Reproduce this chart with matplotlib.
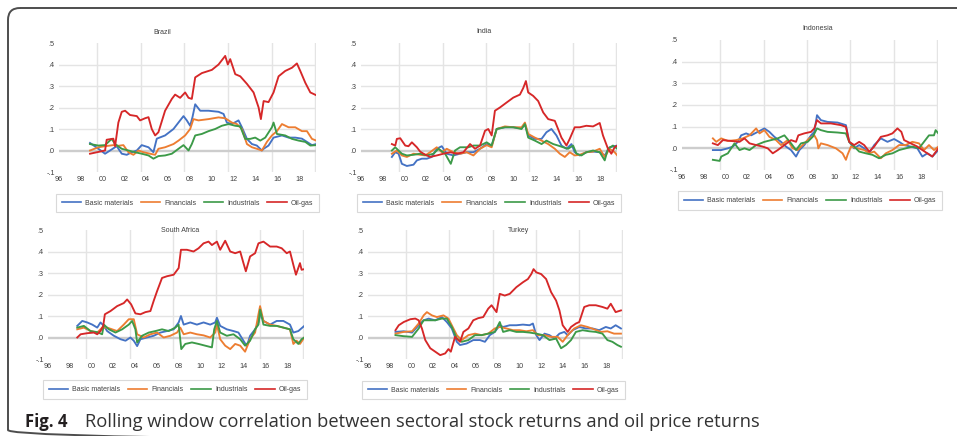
import matplotlib
matplotlib.use('Agg')
import matplotlib.pyplot as plt
from matplotlib.patches import FancyBboxPatch
from matplotlib.lines import Line2D

# ---------------- data (decimal year, correlation) ----------------
sectors = ['Basic materials', 'Financials', 'Industrials', 'Oil-gas']
colors = ['#4472C4', '#ED7D31', '#3C9A48', '#D62728']
year_ticks = list(range(1996, 2019, 2))
year_labels = ['96', '98', '00', '02', '04', '06', '08', '10', '12', '14', '16', '18']
ytick_vals = [-0.1, 0.0, 0.1, 0.2, 0.3, 0.4, 0.5]
ytick_labels = ['-.1', '.0', '.1', '.2', '.3', '.4', '.5']

brazil_basic = [(1998.84, 0.035), (1999.61, 0.008), (2000.22, -0.015), (2000.98, 0.010), (2001.29, 0.020),
                (2001.75, -0.015), (2002.21, -0.020), (2002.67, -0.008), (2003.13, 0.000), (2003.58, 0.025),
                (2004.20, 0.015), (2004.65, -0.008), (2004.96, 0.055), (2005.72, 0.070), (2006.49, 0.100),
                (2007.10, 0.140), (2007.41, 0.160), (2007.71, 0.140), (2008.02, 0.115), (2008.23, 0.155),
                (2008.48, 0.215), (2008.94, 0.185), (2009.70, 0.185), (2010.62, 0.180), (2011.08, 0.170),
                (2011.38, 0.130), (2011.84, 0.123), (2012.45, 0.140), (2012.76, 0.108), (2013.22, 0.054),
                (2013.68, 0.030), (2014.13, 0.023), (2014.59, 0.000), (2014.75, 0.008), (2015.20, 0.023),
                (2015.66, 0.060), (2016.43, 0.070), (2017.04, 0.060), (2017.65, 0.060), (2018.26, 0.055),
                (2018.72, 0.040), (2019.18, 0.025), (2019.58, 0.030)]
brazil_fin = [(1998.84, 0.000), (1999.61, 0.015), (2000.22, 0.020), (2000.98, 0.025), (2001.44, 0.022),
              (2001.90, 0.025), (2002.36, -0.008), (2002.82, -0.020), (2003.28, 0.000), (2003.74, -0.008),
              (2004.35, -0.015), (2004.81, -0.020), (2005.11, 0.008), (2005.72, 0.015), (2006.49, 0.030),
              (2006.95, 0.046), (2007.56, 0.070), (2008.02, 0.100), (2008.32, 0.146), (2008.78, 0.140),
              (2009.70, 0.146), (2010.62, 0.154), (2011.23, 0.150), (2011.84, 0.130), (2012.30, 0.123),
              (2012.76, 0.100), (2013.22, 0.030), (2013.68, 0.015), (2014.13, 0.008), (2014.59, 0.000),
              (2015.05, 0.040), (2015.51, 0.070), (2015.97, 0.090), (2016.43, 0.123), (2017.04, 0.108),
              (2017.65, 0.108), (2018.26, 0.090), (2018.72, 0.090), (2019.18, 0.054), (2019.58, 0.046)]
brazil_ind = [(1998.84, 0.030), (1999.61, 0.023), (2000.22, 0.025), (2000.83, 0.054), (2001.14, 0.030),
              (2001.75, 0.008), (2002.36, 0.000), (2002.97, -0.008), (2003.58, -0.015), (2004.20, -0.023),
              (2004.65, -0.038), (2005.11, -0.026), (2005.72, -0.023), (2006.34, -0.015), (2006.95, 0.008),
              (2007.41, 0.025), (2007.87, 0.000), (2008.17, 0.030), (2008.48, 0.070), (2009.09, 0.077),
              (2009.70, 0.090), (2010.31, 0.100), (2010.92, 0.115), (2011.54, 0.123), (2012.15, 0.115),
              (2012.61, 0.112), (2013.06, 0.054), (2013.52, 0.054), (2013.98, 0.060), (2014.44, 0.046),
              (2014.90, 0.060), (2015.51, 0.108), (2015.66, 0.130), (2015.97, 0.077), (2016.73, 0.070),
              (2017.35, 0.054), (2017.96, 0.046), (2018.57, 0.040), (2019.03, 0.023), (2019.58, 0.025)]
brazil_oil = [(1998.84, -0.015), (1999.30, -0.010), (2000.22, 0.000), (2000.37, 0.050), (2000.98, 0.055),
              (2001.14, 0.020), (2001.44, 0.130), (2001.75, 0.180), (2002.06, 0.185), (2002.51, 0.165),
              (2003.13, 0.160), (2003.43, 0.140), (2003.89, 0.150), (2004.20, 0.155), (2004.50, 0.100),
              (2004.81, 0.070), (2005.11, 0.085), (2005.72, 0.185), (2006.34, 0.240), (2006.64, 0.260),
              (2007.10, 0.245), (2007.56, 0.270), (2007.87, 0.245), (2008.17, 0.240), (2008.48, 0.340),
              (2009.09, 0.360), (2010.01, 0.375), (2010.62, 0.400), (2011.23, 0.440), (2011.47, 0.400),
              (2011.69, 0.425), (2012.15, 0.355), (2012.61, 0.345), (2013.22, 0.310), (2013.83, 0.270),
              (2014.29, 0.200), (2014.50, 0.146), (2014.75, 0.230), (2015.20, 0.225), (2015.66, 0.270),
              (2016.12, 0.345), (2016.73, 0.370), (2017.35, 0.385), (2017.80, 0.405), (2018.11, 0.370),
              (2018.57, 0.315), (2019.03, 0.270), (2019.58, 0.257)]

india_basic = [(1998.84, -0.030), (1999.15, -0.008), (1999.46, -0.015), (1999.76, -0.062), (2000.22, -0.072),
               (2000.83, -0.066), (2001.14, -0.046), (2001.60, -0.038), (2002.06, -0.038), (2002.51, -0.030),
               (2002.97, 0.008), (2003.43, 0.020), (2003.89, -0.015), (2004.50, -0.023), (2005.11, -0.015),
               (2005.72, -0.008), (2006.34, -0.008), (2006.95, 0.008), (2007.56, 0.030), (2008.02, 0.023),
               (2008.48, 0.100), (2009.24, 0.108), (2010.01, 0.108), (2010.77, 0.103), (2011.08, 0.123),
               (2011.38, 0.070), (2011.99, 0.054), (2012.61, 0.054), (2013.06, 0.085), (2013.52, 0.100),
               (2013.98, 0.070), (2014.44, 0.023), (2014.90, 0.008), (2015.36, 0.030), (2015.66, -0.008),
               (2016.12, -0.023), (2016.73, -0.008), (2017.35, -0.005), (2017.96, -0.008), (2018.42, -0.023),
               (2018.87, 0.015), (2019.58, 0.023)]
india_fin = [(1998.84, -0.015), (1999.30, 0.000), (1999.76, -0.023), (2000.22, -0.030), (2000.83, -0.015),
             (2001.44, -0.020), (2001.90, -0.023), (2002.36, -0.008), (2002.97, 0.015), (2003.43, -0.008),
             (2003.89, 0.008), (2004.50, -0.008), (2005.11, -0.015), (2005.72, -0.008), (2006.34, -0.023),
             (2006.95, 0.008), (2007.56, 0.025), (2008.02, 0.015), (2008.48, 0.100), (2009.24, 0.112),
             (2010.01, 0.108), (2010.77, 0.108), (2011.08, 0.130), (2011.38, 0.077), (2011.99, 0.060),
             (2012.61, 0.046), (2013.22, 0.030), (2013.83, 0.008), (2014.29, -0.015), (2014.75, -0.030),
             (2015.20, -0.008), (2015.66, -0.023), (2016.12, -0.020), (2016.73, -0.008), (2017.35, -0.005),
             (2017.96, 0.008), (2018.42, -0.030), (2018.87, 0.008), (2019.33, -0.008), (2019.58, -0.023)]
india_ind = [(1998.84, 0.000), (1999.15, 0.015), (1999.76, -0.015), (2000.22, -0.023), (2000.83, -0.020),
             (2001.44, -0.015), (2002.06, -0.023), (2002.67, -0.015), (2003.13, 0.008), (2003.74, -0.015),
             (2004.26, -0.062), (2004.65, 0.000), (2005.11, 0.015), (2005.88, 0.015), (2006.34, 0.023),
             (2006.95, 0.023), (2007.56, 0.038), (2008.02, 0.023), (2008.48, 0.100), (2009.24, 0.108),
             (2010.01, 0.108), (2010.77, 0.100), (2011.08, 0.123), (2011.38, 0.060), (2011.99, 0.046),
             (2012.61, 0.030), (2013.06, 0.046), (2013.68, 0.030), (2014.13, 0.023), (2014.59, 0.015),
             (2015.05, 0.008), (2015.51, 0.023), (2015.82, -0.015), (2016.28, -0.023), (2016.73, -0.008),
             (2017.35, 0.000), (2017.96, -0.008), (2018.42, -0.046), (2018.72, 0.008), (2019.18, 0.023),
             (2019.58, 0.008)]
india_oil = [(1998.84, 0.030), (1999.15, 0.023), (1999.30, 0.054), (1999.61, 0.057), (2000.07, 0.023),
             (2000.37, 0.020), (2000.68, 0.038), (2001.14, 0.015), (2001.44, -0.005), (2001.75, -0.015),
             (2002.36, -0.030), (2002.97, -0.023), (2003.58, -0.015), (2004.20, -0.008), (2004.81, -0.015),
             (2005.42, -0.008), (2006.03, 0.030), (2006.49, 0.008), (2006.95, 0.023), (2007.41, 0.092),
             (2007.71, 0.100), (2008.02, 0.070), (2008.32, 0.185), (2008.78, 0.200), (2009.39, 0.223),
             (2010.01, 0.246), (2010.62, 0.260), (2010.92, 0.290), (2011.17, 0.323), (2011.38, 0.270),
             (2011.84, 0.254), (2012.30, 0.230), (2012.76, 0.177), (2013.22, 0.146), (2013.83, 0.138),
             (2014.13, 0.100), (2014.44, 0.060), (2014.90, 0.023), (2015.20, 0.054), (2015.66, 0.108),
             (2016.12, 0.108), (2016.73, 0.115), (2017.35, 0.112), (2017.96, 0.128), (2018.26, 0.070),
             (2018.72, 0.008), (2019.03, -0.015), (2019.33, 0.015), (2019.58, 0.023)]

indonesia_basic = [(1998.84, -0.008), (1999.61, -0.008), (2000.22, 0.000), (2000.68, 0.008), (2001.14, 0.030),
                   (2001.44, 0.060), (2001.90, 0.069), (2002.36, 0.060), (2002.97, 0.076), (2003.58, 0.092),
                   (2004.04, 0.076), (2004.50, 0.053), (2005.11, 0.030), (2005.57, 0.008), (2006.03, -0.008),
                   (2006.49, -0.038), (2006.80, -0.008), (2007.25, 0.015), (2007.87, 0.060), (2008.17, 0.076),
                   (2008.42, 0.153), (2008.78, 0.130), (2009.39, 0.122), (2010.31, 0.119), (2011.08, 0.107),
                   (2011.38, 0.030), (2011.84, 0.000), (2012.30, 0.015), (2012.76, 0.000), (2013.22, -0.023),
                   (2013.68, 0.015), (2014.29, 0.046), (2014.90, 0.030), (2015.51, 0.043), (2015.97, 0.030),
                   (2016.43, 0.015), (2017.04, 0.008), (2017.65, 0.000), (2018.11, -0.038), (2018.57, -0.023),
                   (2019.03, -0.038), (2019.58, -0.008)]
indonesia_fin = [(1998.84, 0.046), (1999.15, 0.030), (1999.61, 0.046), (2000.22, 0.034), (2000.98, 0.038),
                 (2001.60, 0.046), (2002.21, 0.060), (2002.82, 0.092), (2003.13, 0.069), (2003.58, 0.084),
                 (2004.04, 0.053), (2004.65, 0.038), (2005.11, 0.015), (2005.72, 0.038), (2006.18, 0.000),
                 (2006.64, -0.008), (2007.10, 0.015), (2007.71, 0.046), (2008.17, 0.060), (2008.42, 0.038),
                 (2008.54, 0.000), (2008.78, 0.023), (2009.39, 0.015), (2010.16, 0.000), (2010.77, -0.023),
                 (2011.08, -0.053), (2011.23, -0.030), (2011.54, 0.008), (2012.15, 0.000), (2012.76, -0.008),
                 (2013.22, -0.023), (2013.68, -0.015), (2014.29, -0.046), (2014.75, -0.023), (2015.36, -0.008),
                 (2015.97, 0.015), (2016.58, 0.015), (2017.19, 0.030), (2017.80, 0.023), (2018.26, -0.008),
                 (2018.72, 0.015), (2019.18, -0.008), (2019.58, 0.008)]
indonesia_ind = [(1998.84, -0.053), (1999.46, -0.058), (1999.61, -0.038), (2000.22, -0.023), (2000.83, 0.023),
                 (2001.29, -0.008), (2001.75, 0.000), (2002.21, -0.008), (2002.82, 0.015), (2003.58, 0.030),
                 (2004.20, 0.038), (2004.81, 0.046), (2005.42, 0.060), (2006.03, 0.023), (2006.49, -0.008),
                 (2006.95, 0.023), (2007.56, 0.030), (2008.02, 0.053), (2008.42, 0.092), (2008.78, 0.084),
                 (2009.39, 0.076), (2010.31, 0.073), (2011.08, 0.069), (2011.38, 0.030), (2011.84, 0.008),
                 (2012.30, -0.015), (2012.91, -0.023), (2013.52, -0.030), (2014.13, -0.046), (2014.75, -0.030),
                 (2015.36, -0.023), (2015.97, -0.008), (2016.58, 0.000), (2017.19, 0.008), (2017.80, 0.000),
                 (2018.26, 0.030), (2018.72, 0.060), (2019.18, 0.060), (2019.33, 0.084), (2019.58, 0.069)]
indonesia_oil = [(1998.84, 0.023), (1999.30, 0.015), (1999.76, 0.038), (2000.53, 0.034), (2001.29, 0.030),
                 (2001.75, 0.046), (2002.21, 0.023), (2002.82, 0.015), (2003.43, 0.008), (2003.89, 0.000),
                 (2004.35, -0.023), (2004.81, -0.008), (2005.42, 0.015), (2006.03, 0.038), (2006.49, 0.030),
                 (2006.70, 0.060), (2007.25, 0.069), (2007.87, 0.076), (2008.17, 0.092), (2008.42, 0.130),
                 (2008.78, 0.115), (2009.70, 0.115), (2010.62, 0.107), (2011.08, 0.099), (2011.38, 0.030),
                 (2011.84, 0.015), (2012.30, 0.030), (2012.76, 0.015), (2013.22, -0.015), (2013.68, 0.008),
                 (2014.29, 0.053), (2014.90, 0.060), (2015.36, 0.069), (2015.82, 0.092), (2016.18, 0.076),
                 (2016.43, 0.038), (2017.04, 0.023), (2017.65, 0.008), (2018.11, -0.008), (2018.57, -0.023),
                 (2019.03, -0.038), (2019.58, 0.000)]

safrica_basic = [(1998.69, 0.054), (1999.15, 0.077), (1999.61, 0.070), (2000.07, 0.060), (2000.53, 0.046),
                 (2000.83, 0.070), (2001.14, 0.054), (2001.44, 0.030), (2002.06, 0.008), (2002.67, -0.008),
                 (2003.13, -0.015), (2003.58, 0.000), (2003.89, -0.015), (2004.20, -0.040), (2004.50, -0.008),
                 (2005.11, 0.000), (2005.72, 0.008), (2006.34, 0.023), (2006.95, 0.030), (2007.56, 0.038),
                 (2008.02, 0.070), (2008.23, 0.100), (2008.48, 0.060), (2009.09, 0.070), (2009.70, 0.060),
                 (2010.31, 0.070), (2010.92, 0.060), (2011.38, 0.070), (2011.54, 0.092), (2011.84, 0.054),
                 (2012.45, 0.038), (2013.06, 0.030), (2013.52, 0.023), (2013.98, -0.015), (2014.29, -0.040),
                 (2014.59, 0.008), (2015.05, 0.038), (2015.36, 0.070), (2015.57, 0.115), (2015.82, 0.077),
                 (2016.43, 0.060), (2017.04, 0.077), (2017.65, 0.077), (2018.26, 0.060), (2018.57, 0.023),
                 (2019.03, 0.030), (2019.58, 0.054)]
safrica_fin = [(1998.69, 0.038), (1999.30, 0.046), (1999.91, 0.030), (2000.53, 0.023), (2000.98, 0.046),
               (2001.44, 0.046), (2001.90, 0.038), (2002.36, 0.030), (2002.97, 0.060), (2003.43, 0.085),
               (2003.89, 0.085), (2004.20, 0.015), (2004.81, 0.000), (2005.42, 0.015), (2006.03, 0.023),
               (2006.64, 0.000), (2007.25, 0.008), (2007.87, 0.023), (2008.17, 0.046), (2008.48, 0.015),
               (2009.09, 0.023), (2009.70, 0.015), (2010.31, 0.010), (2010.92, 0.000), (2011.38, 0.023),
               (2011.54, 0.060), (2011.84, -0.008), (2012.30, -0.038), (2012.76, -0.054), (2013.22, -0.030),
               (2013.68, -0.038), (2014.13, -0.066), (2014.59, -0.008), (2015.05, 0.023), (2015.36, 0.108),
               (2015.51, 0.146), (2015.82, 0.077), (2016.43, 0.060), (2017.04, 0.054), (2017.65, 0.046),
               (2018.26, 0.038), (2018.57, -0.030), (2018.87, -0.015), (2019.18, -0.030), (2019.58, 0.000)]
safrica_ind = [(1998.69, 0.046), (1999.30, 0.054), (1999.91, 0.030), (2000.53, 0.025), (2000.98, 0.015),
               (2001.14, 0.060), (2001.60, 0.038), (2002.21, 0.023), (2002.82, 0.038), (2003.43, 0.060),
               (2003.74, 0.077), (2004.04, 0.038), (2004.20, -0.023), (2004.65, 0.008), (2005.27, 0.023),
               (2005.88, 0.030), (2006.49, 0.038), (2007.10, 0.030), (2007.71, 0.046), (2008.02, 0.060),
               (2008.26, -0.054), (2008.63, -0.030), (2009.24, -0.023), (2009.85, -0.030), (2010.46, -0.038),
               (2011.08, -0.046), (2011.29, 0.038), (2011.54, 0.077), (2011.84, 0.023), (2012.45, 0.008),
               (2013.06, 0.015), (2013.68, -0.008), (2014.13, -0.038), (2014.59, -0.015), (2015.05, 0.038),
               (2015.36, 0.060), (2015.51, 0.130), (2015.82, 0.060), (2016.43, 0.054), (2017.04, 0.054),
               (2017.65, 0.046), (2018.26, 0.038), (2018.57, -0.008), (2019.03, -0.030), (2019.33, -0.008),
               (2019.58, 0.000)]
safrica_oil = [(1998.69, 0.000), (1999.00, 0.015), (1999.61, 0.020), (2000.22, 0.023), (2000.53, 0.015),
               (2000.83, 0.030), (2001.08, 0.054), (2001.23, 0.108), (2001.75, 0.123), (2002.36, 0.146),
               (2002.97, 0.160), (2003.28, 0.177), (2003.65, 0.154), (2004.04, 0.112), (2004.50, 0.108),
               (2004.96, 0.118), (2005.42, 0.123), (2005.72, 0.170), (2006.03, 0.215), (2006.49, 0.277),
               (2006.95, 0.285), (2007.56, 0.292), (2008.02, 0.323), (2008.23, 0.408), (2008.78, 0.408),
               (2009.39, 0.400), (2009.85, 0.415), (2010.31, 0.438), (2010.77, 0.446), (2011.08, 0.430),
               (2011.54, 0.446), (2011.84, 0.408), (2012.30, 0.450), (2012.76, 0.400), (2013.22, 0.392),
               (2013.68, 0.400), (2013.98, 0.346), (2014.20, 0.308), (2014.59, 0.377), (2015.05, 0.392),
               (2015.36, 0.438), (2015.82, 0.446), (2016.43, 0.423), (2017.04, 0.423), (2017.50, 0.415),
               (2017.96, 0.392), (2018.26, 0.400), (2018.57, 0.338), (2018.81, 0.292), (2019.18, 0.346),
               (2019.33, 0.315), (2019.58, 0.318)]

turkey_basic = [(1998.54, 0.026), (1999.30, 0.029), (2000.07, 0.023), (2000.68, 0.057), (2001.14, 0.080),
                (2001.60, 0.088), (2002.21, 0.080), (2002.82, 0.095), (2003.28, 0.072), (2003.74, 0.042),
                (2004.20, -0.020), (2004.50, -0.035), (2005.11, -0.028), (2005.72, -0.012), (2006.34, -0.012),
                (2006.80, -0.020), (2007.25, 0.011), (2007.71, 0.026), (2008.17, 0.057), (2008.48, 0.049),
                (2009.09, 0.057), (2009.70, 0.057), (2010.31, 0.060), (2010.92, 0.057), (2011.23, 0.065),
                (2011.54, 0.011), (2011.84, -0.012), (2012.30, 0.018), (2012.76, 0.011), (2013.22, -0.005),
                (2013.68, 0.018), (2014.13, 0.026), (2014.44, 0.011), (2014.90, 0.034), (2015.51, 0.049),
                (2016.12, 0.042), (2016.73, 0.042), (2017.35, 0.034), (2017.96, 0.049), (2018.42, 0.042),
                (2018.87, 0.057), (2019.36, 0.042)]
turkey_fin = [(1998.54, 0.018), (1999.30, 0.026), (2000.07, 0.029), (2000.68, 0.065), (2001.14, 0.103),
              (2001.44, 0.118), (2001.90, 0.103), (2002.36, 0.095), (2002.97, 0.103), (2003.43, 0.088),
              (2003.74, 0.057), (2004.20, 0.011), (2004.65, -0.012), (2005.27, 0.011), (2005.88, 0.018),
              (2006.49, 0.011), (2007.10, 0.018), (2007.71, 0.042), (2008.17, 0.049), (2008.78, 0.042),
              (2009.39, 0.034), (2010.01, 0.034), (2010.62, 0.029), (2011.23, 0.034), (2011.69, 0.011),
              (2012.30, 0.011), (2012.91, 0.003), (2013.52, 0.003), (2013.98, -0.020), (2014.44, 0.011),
              (2015.05, 0.042), (2015.66, 0.057), (2016.28, 0.049), (2016.89, 0.038), (2017.50, 0.026),
              (2018.11, 0.029), (2018.72, 0.018), (2019.36, 0.018)]
turkey_ind = [(1998.54, 0.011), (1999.30, 0.006), (2000.07, 0.003), (2000.68, 0.042), (2001.14, 0.080),
              (2001.60, 0.080), (2002.21, 0.080), (2002.82, 0.088), (2003.28, 0.088), (2003.74, 0.049),
              (2004.20, -0.005), (2004.65, -0.020), (2005.27, -0.012), (2005.88, 0.011), (2006.49, 0.011),
              (2007.10, 0.018), (2007.71, 0.026), (2008.17, 0.072), (2008.48, 0.026), (2009.09, 0.034),
              (2009.70, 0.026), (2010.31, 0.026), (2010.92, 0.023), (2011.54, 0.018), (2012.15, 0.011),
              (2012.76, -0.012), (2013.37, -0.005), (2013.83, -0.050), (2014.29, -0.035), (2014.75, -0.012),
              (2015.20, 0.026), (2015.82, 0.034), (2016.43, 0.029), (2017.04, 0.026), (2017.65, 0.018),
              (2018.11, -0.012), (2018.57, -0.020), (2019.03, -0.035), (2019.36, -0.043)]
turkey_oil = [(1998.54, 0.034), (1998.84, 0.057), (1999.30, 0.072), (1999.91, 0.085), (2000.37, 0.088),
              (2000.68, 0.080), (2000.98, 0.042), (2001.29, -0.012), (2001.75, -0.050), (2002.21, -0.066),
              (2002.67, -0.082), (2003.13, -0.074), (2003.43, -0.054), (2003.65, -0.066), (2004.04, 0.003),
              (2004.50, -0.020), (2004.81, 0.026), (2005.27, 0.042), (2005.72, 0.080), (2006.18, 0.090),
              (2006.64, 0.095), (2007.10, 0.134), (2007.41, 0.150), (2007.87, 0.118), (2008.17, 0.203),
              (2008.63, 0.195), (2009.09, 0.203), (2009.70, 0.234), (2010.31, 0.257), (2010.77, 0.272),
              (2011.08, 0.295), (2011.29, 0.318), (2011.54, 0.303), (2011.99, 0.295), (2012.45, 0.272),
              (2012.91, 0.211), (2013.37, 0.172), (2013.68, 0.126), (2013.98, 0.057), (2014.44, 0.026),
              (2014.75, 0.049), (2015.20, 0.065), (2015.51, 0.072), (2015.97, 0.142), (2016.43, 0.150),
              (2017.04, 0.150), (2017.65, 0.142), (2018.11, 0.134), (2018.42, 0.157), (2018.87, 0.118),
              (2019.36, 0.126)]

countries = ['Brazil', 'India', 'Indonesia', 'South Africa', 'Turkey']

# ---------------- layout (pixels of a 957 x 436 canvas) ----------------
W, H = 957, 436
CHART_FONT = 'Liberation Sans'
TXT = '#404040'

panels = [
    # name, series, plot box (l, t, r, b), title (x frac, y frac), legend box (l, t, r, b)
    (countries[0], [brazil_basic, brazil_fin, brazil_ind, brazil_oil], (59, 43, 316, 172), (0.40, 1.078), (56, 195, 319, 211)),
    (countries[1], [india_basic, india_fin, india_ind, india_oil], (361, 43, 617, 172), (0.48, 1.093), (357, 195, 621, 211)),
    (countries[2], [indonesia_basic, indonesia_fin, indonesia_ind, indonesia_oil], (682, 40, 938, 170), (0.53, 1.085), (678, 192, 942, 209)),
    (countries[3], [safrica_basic, safrica_fin, safrica_ind, safrica_oil], (48, 230, 304, 359), (0.516, 1.0), (43, 382, 307, 397)),
    (countries[4], [turkey_basic, turkey_fin, turkey_ind, turkey_oil], (368, 230, 623, 359), (0.59, 1.0), (362, 382, 625, 398)),
]

fig = plt.figure(figsize=(W / 100, H / 100), dpi=100)
fig.patch.set_facecolor('white')

# background frame
bg = fig.add_axes([0, 0, 1, 1], zorder=-10)
bg.set_xlim(0, W)
bg.set_ylim(H, 0)
bg.axis('off')
bg.add_patch(FancyBboxPatch((8, 8), 1100, 434, boxstyle='round,pad=0,rounding_size=12',
                            fill=False, edgecolor='#4D4D4D', linewidth=1.4))


def px_rect(l, t, r, b):
    return [l / W, 1 - b / H, (r - l) / W, (b - t) / H]


for name, series, box, tpos, lbox in panels:
    ax = fig.add_axes(px_rect(*box))
    ax.set_xlim(1996, 2019.55)
    ax.set_ylim(-0.1, 0.5)
    for s in ax.spines.values():
        s.set_visible(False)
    for v in [0.1, 0.2, 0.3, 0.4]:
        ax.axhline(v, color='#E4E4E4', lw=1.0, zorder=0)
    for g in [1999.5, 2003.5, 2007.5, 2011.5, 2015.5, 2019.5]:
        ax.axvline(g, color='#E4E4E4', lw=1.0, zorder=0)
    ax.axhline(0, color='#CDCDCD', lw=1.7, zorder=1)
    for data, col in zip(series, colors):
        xs = [p[0] for p in data]
        ys = [p[1] for p in data]
        ax.plot(xs, ys, color=col, lw=1.35, zorder=3, solid_joinstyle='round')
    ax.set_xticks(year_ticks)
    ax.set_xticklabels(year_labels)
    ax.set_yticks(ytick_vals)
    ax.set_yticklabels(ytick_labels)
    ax.tick_params(length=0, labelsize=5.2, colors=TXT, pad=3)
    for lab in ax.get_xticklabels() + ax.get_yticklabels():
        lab.set_fontfamily(CHART_FONT)
    ax.text(tpos[0], tpos[1], name, transform=ax.transAxes, ha='center', va='center',
            fontsize=5, family=CHART_FONT, color=TXT)
    handles = [Line2D([], [], color=c, lw=1.2) for c in colors]
    l, t, r, b = lbox
    leg = ax.legend(handles, sectors, loc='center', ncol=4, mode='expand',
                    bbox_to_anchor=(l / W, 1 - b / H, (r - l) / W, (b - t) / H),
                    bbox_transform=fig.transFigure, borderaxespad=0,
                    prop={'family': CHART_FONT, 'size': 5}, frameon=True, fancybox=False,
                    edgecolor='#D9D9D9', framealpha=1, handlelength=2.8, handletextpad=0.6,
                    borderpad=0.8)
    leg.get_frame().set_linewidth(0.8)
    for tx in leg.get_texts():
        tx.set_color(TXT)

# caption
fig.text(25 / W, 1 - 427 / H, 'Fig. 4', fontsize=12, fontweight='bold', family='Open Sans',
         color='#231F20', va='baseline', ha='left')
fig.text(85 / W, 1 - 427 / H,
         'Rolling window correlation between sectoral stock returns and oil price returns',
         fontsize=13.2, family='Open Sans', color='#333333', va='baseline', ha='left')

fig.savefig('out.png', dpi=100, facecolor='white')
